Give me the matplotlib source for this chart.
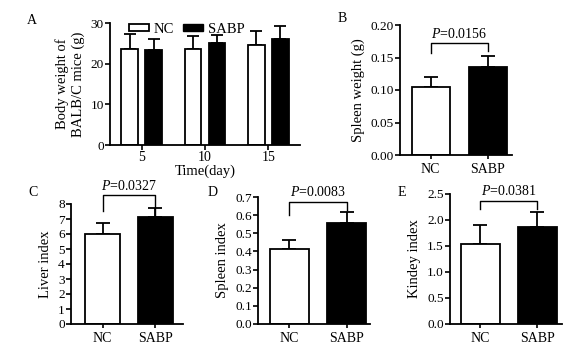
import numpy as np
import matplotlib
matplotlib.use('Agg')
import matplotlib.pyplot as plt
from matplotlib.patches import Patch

plt.rcParams['font.family'] = ['Liberation Serif', 'DejaVu Serif']
plt.rcParams['font.size'] = 9.5
plt.rcParams['mathtext.fontset'] = 'custom'
plt.rcParams['mathtext.rm'] = 'Liberation Serif'
plt.rcParams['mathtext.it'] = 'Liberation Serif:italic'

# Panel A: body weight over time
days = [5, 10, 15]
bw_nc = [23.7, 23.5, 24.5]
bw_nc_err = [3.7, 3.4, 3.5]
bw_sabp = [23.4, 25.0, 26.1]
bw_sabp_err = [2.7, 2.1, 3.2]

groups = ['NC', 'SABP']

# Panels B-E: organ measurements (mean, sd)
spleen_w = [0.104, 0.136]
spleen_w_err = [0.016, 0.016]
liver_idx = [6.0, 7.15]
liver_idx_err = [0.75, 0.58]
spleen_idx = [0.414, 0.554]
spleen_idx_err = [0.050, 0.062]
kidney_idx = [1.53, 1.87]
kidney_idx_err = [0.37, 0.28]

p_values = ['0.0156', '0.0327', '0.0083', '0.0381']

W, H = 578, 357
fig = plt.figure(figsize=(W / 100, H / 100), dpi=100)


def px_axes(l, r, b, t):
    return fig.add_axes([l / W, 1 - b / H, (r - l) / W, (b - t) / H])


def style(ax):
    for s in ['top', 'right']:
        ax.spines[s].set_visible(False)
    for s in ['left', 'bottom']:
        ax.spines[s].set_linewidth(1.3)
    ax.tick_params(width=1.2, length=3.5, pad=1, labelsize=9.5)


def two_bar(ax, vals, errs, ylim, yticks, fmt, ylabel, pval, br_y, legs, xlim):
    x = np.arange(2)
    ax.bar(x, vals, width=0.67, color=['white', 'black'], edgecolor='black',
           linewidth=1.3, zorder=2)
    ax.errorbar(x, vals, yerr=[[0, 0], errs], fmt='none', ecolor='black',
                elinewidth=1.3, capsize=5, capthick=1.3, zorder=1)
    ax.set_xlim(*xlim)
    ax.set_ylim(*ylim)
    ax.set_yticks(yticks)
    ax.set_yticklabels([fmt.format(v) for v in yticks])
    ax.set_xticks(x)
    ax.set_xticklabels(groups)
    ax.set_ylabel(ylabel, fontsize=10.5, labelpad=4)
    style(ax)
    ax.tick_params(axis='x', length=3, pad=3, labelsize=10)
    ax.plot([0, 0, 1, 1], [legs[0], br_y, br_y, legs[1]], color='black',
            lw=1.0, clip_on=False)
    ax.text(0.5, br_y + (ylim[1] - ylim[0]) * 0.02, r'$\mathit{P}$=' + pval,
            ha='center', va='bottom', fontsize=10, clip_on=False)


# A
axA = px_axes(110, 300, 145, 23)
xA = np.array(days, dtype=float)
axA.bar(xA - 0.95, bw_nc, width=1.3, color='white', edgecolor='black', linewidth=1.3, zorder=2)
axA.bar(xA + 0.95, bw_sabp, width=1.3, color='black', edgecolor='black', linewidth=1.3, zorder=2)
axA.errorbar(xA - 0.95, bw_nc, yerr=[[0] * 3, bw_nc_err], fmt='none', ecolor='black',
             elinewidth=1.3, capsize=4.5, capthick=1.3, zorder=1)
axA.errorbar(xA + 0.95, bw_sabp, yerr=[[0] * 3, bw_sabp_err], fmt='none', ecolor='black',
             elinewidth=1.3, capsize=4.5, capthick=1.3, zorder=1)
axA.set_xlim(2.5, 17.5)
axA.set_ylim(0, 30)
axA.set_yticks([0, 10, 20, 30])
axA.set_xticks(days)
axA.set_xlabel('Time(day)', fontsize=10.5, labelpad=0)
axA.set_ylabel('Body weight of\nBALB/C mice (g)', fontsize=10.5, labelpad=4,
               linespacing=1.25)
style(axA)
axA.tick_params(axis='x', labelsize=10)
axA.legend(handles=[Patch(facecolor='white', edgecolor='black', linewidth=1.3),
                    Patch(facecolor='black', edgecolor='black')],
           labels=groups, loc='upper left', bbox_to_anchor=(0.03, 1.11), ncol=2,
           frameon=False, handlelength=1.4, handleheight=0.45, handletextpad=0.3,
           columnspacing=0.6, fontsize=10.5)

# B
axB = px_axes(400, 512, 155, 25)
two_bar(axB, spleen_w, spleen_w_err, (0, 0.2), [0, 0.05, 0.10, 0.15, 0.20], '{:.2f}',
        'Spleen weight (g)', p_values[0], 0.172, (0.157, 0.160), (-0.54, 1.43))

# C
axC = px_axes(71, 183, 324, 204)
two_bar(axC, liver_idx, liver_idx_err, (0, 8), list(range(9)), '{:d}',
        'Liver index', p_values[1], 8.6, (7.55, 7.3), (-0.6, 1.53))

# D
axD = px_axes(258, 370, 324, 197)
two_bar(axD, spleen_idx, spleen_idx_err, (0, 0.7), list(np.round(np.arange(0, 0.71, 0.1), 1)),
        '{:.1f}', 'Spleen index', p_values[2], 0.673, (0.60, 0.63), (-0.55, 1.41))

# E
axE = px_axes(450, 562, 324, 194)
two_bar(axE, kidney_idx, kidney_idx_err, (0, 2.5), [0, 0.5, 1.0, 1.5, 2.0, 2.5], '{:.1f}',
        'Kindey index', p_values[3], 2.37, (2.22, 2.22), (-0.535, 1.43))

# panel letters
for lab, x, y in [('A', 32, 20), ('B', 342, 18), ('C', 33, 193), ('D', 213, 193), ('E', 402, 193)]:
    fig.text(x / W, 1 - y / H, lab, fontsize=10, ha='center', va='center')

fig.savefig('out.png', dpi=100)
